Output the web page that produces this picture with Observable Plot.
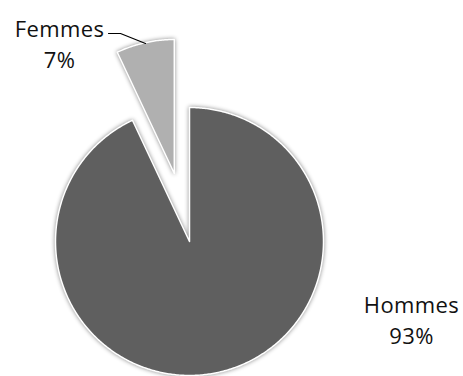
<!DOCTYPE html>
<html>
<head>
<meta charset="utf-8">
<script src="https://cdn.jsdelivr.net/npm/d3@7"></script>
<script src="https://cdn.jsdelivr.net/npm/@observablehq/plot@0.6"></script>
<style>
  html, body { margin: 0; padding: 0; background: #fff; }
  #chart svg .slice path { filter: drop-shadow(0px 0px 2px rgba(0,0,0,0.45)); }
  #chart svg .lbl text { letter-spacing: 0.4px; }
</style>
</head>
<body>
<div id="chart"></div>
<script>
// ---- data ----
const categories = ["Hommes", "Femmes"];
const values = [93, 7];
const percentLabels = ["93%", "7%"];
const colors = ["#5f5f5f", "#b0b0b0"];

// ---- layout (pixels) ----
const W = 463, H = 376;
const C = {x: 189, y: 241, r: 134};        // pie centre & radius
const explode = [0, 0.52];                 // explosion offset, in radii
const labelPx = [{x: 411, y: 318}, {x: 59, y: 42.5}];
const leaderPx = [{x: 108, y: 33}, {x: 120, y: 33}, {x: 145, y: 43}];

const toU = p => ({x: (p.x - C.x) / C.r, y: (C.y - p.y) / C.r});

// pie angles (clockwise from 12 o'clock, Excel style)
const pie = d3.pie().sort(null).value(d => d.value)(
  categories.map((c, i) => ({category: c, value: values[i], i}))
);

const slices = [];
pie.forEach(p => {
  const i = p.data.i;
  const mid = (p.startAngle + p.endAngle) / 2;
  const ox = explode[i] * Math.sin(mid), oy = explode[i] * Math.cos(mid);
  const n = Math.max(4, Math.ceil((p.endAngle - p.startAngle) / 0.01));
  slices.push({category: p.data.category, x: ox, y: oy});
  for (let k = 0; k <= n; k++) {
    const a = p.startAngle + (p.endAngle - p.startAngle) * k / n;
    slices.push({category: p.data.category, x: ox + Math.sin(a), y: oy + Math.cos(a)});
  }
});

const labelData = categories.map((c, i) => ({text: c + "\n" + percentLabels[i], ...toU(labelPx[i])}));
const leader = leaderPx.map(toU);

const chart = Plot.plot({
  width: W, height: H,
  margin: 0,
  x: {domain: [-C.x / C.r, (W - C.x) / C.r], axis: null},
  y: {domain: [-(H - C.y) / C.r, C.y / C.r], axis: null},
  color: {domain: categories, range: colors},
  style: {background: "#fff"},
  marks: [
    Plot.line(slices, {x: "x", y: "y", z: "category", fill: "category", stroke: "#fff", strokeWidth: 1.5, curve: "linear-closed", className: "slice"}),
    Plot.line(leader, {x: "x", y: "y", stroke: "#000", strokeWidth: 1.2}),
    Plot.text(labelData, {x: "x", y: "y", text: "text", fill: "#111", fontSize: 22, lineHeight: 1.41, fontFamily: "'Open Sans', sans-serif", textAnchor: "middle", className: "lbl"})
  ]
});
document.getElementById("chart").appendChild(chart);
</script>
</body>
</html>
